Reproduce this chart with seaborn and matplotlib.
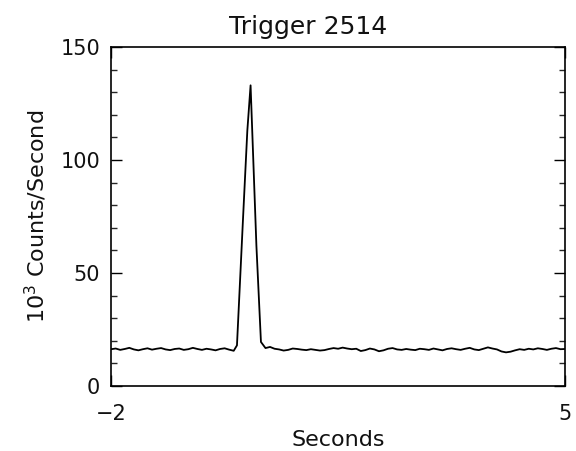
import matplotlib
matplotlib.use("Agg")
import matplotlib.pyplot as plt
import seaborn as sns
import pandas as pd
from matplotlib.ticker import MultipleLocator, FixedLocator

title = "Trigger 2514"
x_label = "Seconds"
y_label = "10$^3$ Counts/Second"
x_ticks = [-2, 5]
x_ticklabels = ["\u22122", "5"]
y_ticks = [0, 50, 100, 150]

times = [-2.00, -1.93, -1.86, -1.79, -1.72, -1.65, -1.58, -1.51, -1.44, -1.37,
         -1.30, -1.23, -1.16, -1.09, -1.02, -0.95, -0.88, -0.81, -0.74, -0.67,
         -0.60, -0.53, -0.46, -0.39, -0.32, -0.25, -0.18, -0.11,
         -0.06, 0.03, 0.10, 0.15, 0.24, 0.31, 0.38,
         0.45, 0.52, 0.59, 0.66, 0.73, 0.80, 0.87, 0.94, 1.01, 1.08,
         1.15, 1.22, 1.29, 1.36, 1.43, 1.50, 1.57, 1.64, 1.71, 1.78,
         1.85, 1.92, 1.99, 2.06, 2.13, 2.20, 2.27, 2.34, 2.41, 2.48,
         2.55, 2.62, 2.69, 2.76, 2.83, 2.90, 2.97, 3.04, 3.11, 3.18,
         3.25, 3.32, 3.39, 3.46, 3.53, 3.60, 3.67, 3.74, 3.81, 3.88,
         3.95, 4.02, 4.09, 4.16, 4.23, 4.30, 4.37, 4.44, 4.51, 4.58,
         4.65, 4.72, 4.79, 4.86, 4.93, 5.00]

counts = [16.3, 16.6, 16.0, 16.4, 16.9, 16.2, 15.8, 16.3, 16.7, 16.1,
          16.5, 16.8, 16.2, 15.9, 16.4, 16.6, 16.0, 16.3, 16.9, 16.4,
          16.0, 16.5, 16.2, 15.8, 16.4, 16.7, 16.1, 15.6,
          18.0, 72.0, 113.0, 133.0, 62.0, 19.5, 16.8,
          17.3, 16.5, 16.2, 15.7, 16.0, 16.6, 16.4, 16.1, 15.9, 16.3,
          16.0, 15.7, 15.9, 16.4, 16.8, 16.5, 17.0, 16.6, 16.3, 16.5,
          15.5, 15.9, 16.6, 16.2, 15.4, 15.8, 16.5, 16.8, 16.2, 16.0,
          16.4, 16.1, 15.9, 16.5, 16.3, 16.0, 16.6, 16.2, 15.8, 16.4,
          16.7, 16.3, 16.0, 16.5, 16.9, 16.2, 15.9, 16.5, 17.1, 16.6,
          16.2, 15.3, 14.9, 15.2, 15.8, 16.3, 16.0, 16.5, 16.2, 16.7,
          16.4, 16.0, 16.5, 16.8, 16.3, 16.4]

df = pd.DataFrame({"t": times, "c": counts})

sns.set_style("ticks")
plt.rcParams["font.family"] = ["DejaVu Sans"]
plt.rcParams["text.color"] = "#111111"
plt.rcParams["axes.labelcolor"] = "#111111"

fig = plt.figure(figsize=(5.76, 4.51), dpi=100)
ax = fig.add_axes([0.193, 0.144, 0.788, 0.752])
sns.lineplot(data=df, x="t", y="c", ax=ax, color="black", linewidth=1.3,
             estimator=None, sort=False)

ax.set_xlim(-2, 5)
ax.set_ylim(0, 150)
ax.xaxis.set_major_locator(FixedLocator(x_ticks))
ax.set_xticklabels(x_ticklabels)
ax.yaxis.set_major_locator(FixedLocator(y_ticks))
ax.yaxis.set_minor_locator(MultipleLocator(10))

for s in ax.spines.values():
    s.set_visible(True)
    s.set_color("black")
    s.set_linewidth(1.2)

ax.tick_params(axis="y", which="major", direction="in", length=8, width=1,
               left=True, right=True, labelsize=15, pad=8, colors="black",
               labelcolor="#111111")
ax.tick_params(axis="y", which="minor", direction="in", length=4, width=1,
               left=True, right=True)
ax.tick_params(axis="x", which="major", direction="in", length=8, width=1,
               bottom=True, top=True, labelsize=15, pad=13, colors="black",
               labelcolor="#111111")

ax.set_title(title, fontsize=18, pad=9, x=0.433)
ax.set_xlabel(x_label, fontsize=16, labelpad=4)
ax.set_ylabel(y_label, fontsize=16, labelpad=8)

fig.savefig("out.png", dpi=100)
